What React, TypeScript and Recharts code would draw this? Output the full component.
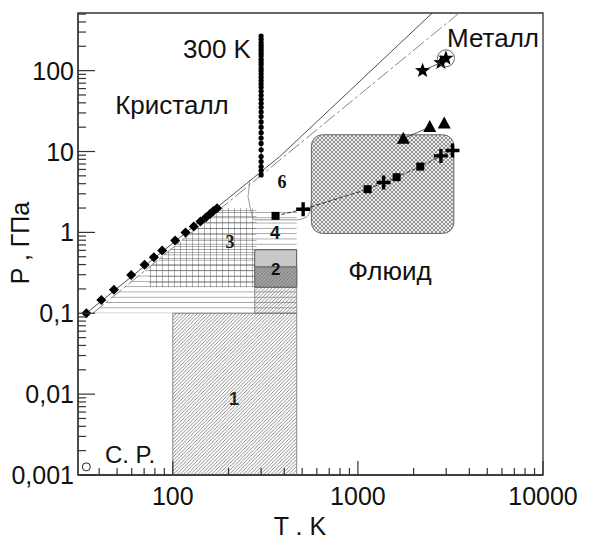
import { ComposedChart, XAxis, YAxis, Line, Scatter, Area, ReferenceArea } from 'recharts'

// axis ticks
const T_TICKS = [40, 50, 60, 70, 80, 90, 100, 200, 300, 400, 500, 600, 700, 800, 900, 1000, 2000, 3000, 4000, 5000, 6000, 7000, 8000, 9000, 10000]
const T_MAJOR = [100, 1000, 10000]
const T_LABELS = ['100', '1000', '10000']
const P_TICKS = [
  0.001, 0.002, 0.003, 0.004, 0.005, 0.006, 0.007, 0.008, 0.009,
  0.01, 0.02, 0.03, 0.04, 0.05, 0.06, 0.07, 0.08, 0.09,
  0.1, 0.2, 0.3, 0.4, 0.5, 0.6, 0.7, 0.8, 0.9,
  1, 2, 3, 4, 5, 6, 7, 8, 9,
  10, 20, 30, 40, 50, 60, 70, 80, 90,
  100, 200, 300, 400, 500,
]
const P_MAJOR = [0.001, 0.01, 0.1, 1, 10, 100]
const P_LABELS = ['0,001', '0,01', '0,1', '1', '10', '100']

// melting curve data (diamonds)
const meltPoints = [
  { T: 34.1, P: 0.1 }, { T: 41.1, P: 0.146 }, { T: 48.1, P: 0.195 }, { T: 59.6, P: 0.298 },
  { T: 70.4, P: 0.397 }, { T: 79.0, P: 0.494 }, { T: 87.6, P: 0.596 }, { T: 102.9, P: 0.792 },
  { T: 117.1, P: 0.994 }, { T: 129.8, P: 1.18 }, { T: 141.0, P: 1.36 }, { T: 151.2, P: 1.54 },
  { T: 158.9, P: 1.69 }, { T: 165.7, P: 1.84 }, { T: 173.4, P: 1.99 },
]
// melting curves
const meltSolid = [{ T: 34.1, P: 0.1 }, { T: 377, P: 8.6 }, { T: 899, P: 55.8 }, { T: 2521, P: 516 }]
const meltDashed = [{ T: 37.0, P: 0.1 }, { T: 3524, P: 516 }]

// 300 K isotherm
const iso300P = [
  268, 244, 222, 206, 191, 177, 164, 152, 138, 128, 119, 108, 100, 91, 82.8, 75.3, 68.5, 62.3,
  55.6, 49.6, 44.3, 39.5, 35.2, 30.9, 27.0, 23.2, 20.0, 17.1, 14.7, 12.6, 10.5, 8.66, 7.51, 6.51, 5.81, 5.14,
]
const iso300 = iso300P.map(P => ({ T: 300, P }))

// fluid data
const fluidSquares = [{ T: 359, P: 1.6 }, { T: 1129, P: 3.42 }, { T: 1619, P: 4.81 }, { T: 2172, P: 6.51 }]
const fluidCrosses = [{ T: 506, P: 1.93 }, { T: 1377, P: 4.13 }, { T: 2809, P: 8.82 }, { T: 3243, P: 10.3 }]
const triangles = [{ T: 1759, P: 14.4 }, { T: 2444, P: 20.1 }, { T: 2927, P: 22.2 }]
const stars = [{ T: 2236, P: 100 }, { T: 2809, P: 125.6 }, { T: 2989, P: 142 }]
const metalCircle = [{ T: 2989, P: 142 }]
const critPoint = [{ T: 34.1, P: 0.00126 }]

// hatched regions
const region3 = [{ T: 74.5, range: [0.21, 0.37] }, { T: 183, range: [0.21, 2] }, { T: 283, range: [0.21, 2] }]
const regionH = [{ T: 37, range: [0.1, 0.1] }, { T: 183, range: [0.1, 2] }, { T: 467, range: [0.1, 2] }]
const region6 = [
  { T: 260, P: 4.46 }, { T: 254, P: 2.75 }, { T: 263, P: 1.9 }, { T: 277, P: 1.43 },
  { T: 466, P: 1.43 }, { T: 527, P: 1.55 }, { T: 554, P: 1.9 }, { T: 560, P: 2.52 },
]

const fluidLine = [...fluidSquares, ...fluidCrosses].sort((a, b) => a.T - b.T)

const SANS = '"Liberation Sans", Arial, Helvetica, sans-serif'
const SERIF = '"Liberation Serif", "Times New Roman", serif'

const XTick = (props: any) => {
  const { x, y, payload } = props
  const i = T_MAJOR.indexOf(payload.value)
  return (
    <g>
      <line x1={x} x2={x} y1={y} y2={y - (i >= 0 ? 14 : 7)} stroke="#333" strokeWidth={1.2} />
      {i >= 0 && (
        <text x={x} y={y + 30} textAnchor="middle" fontSize={25} fontFamily={SANS} fill="#111">{T_LABELS[i]}</text>
      )}
    </g>
  )
}

const YTick = (props: any) => {
  const { x, y, payload } = props
  const i = P_MAJOR.indexOf(payload.value)
  return (
    <g>
      <line x1={x} x2={x + (i >= 0 ? 17 : 8)} y1={y} y2={y} stroke="#333" strokeWidth={1.2} />
      {i >= 0 && (
        <text x={x - 4} y={y + 9} textAnchor="end" fontSize={25} fontFamily={SANS} fill="#111">{P_LABELS[i]}</text>
      )}
    </g>
  )
}

const Diamond = ({ cx, cy }: any) => <polygon points={`${cx},${cy - 5} ${cx + 5},${cy} ${cx},${cy + 5} ${cx - 5},${cy}`} fill="#000" />
const Dot = ({ cx, cy }: any) => <circle cx={cx} cy={cy} r={2.6} fill="#000" />
const Square = ({ cx, cy }: any) => <rect x={cx - 4} y={cy - 4} width={8} height={8} fill="#000" />
const Cross = ({ cx, cy }: any) => (
  <path d={`M${cx - 7},${cy} H${cx + 7} M${cx},${cy - 7} V${cy + 7}`} stroke="#000" strokeWidth={3.4} />
)
const Triangle = ({ cx, cy }: any) => <polygon points={`${cx},${cy - 7} ${cx + 6.5},${cy + 5} ${cx - 6.5},${cy + 5}`} fill="#000" />
const Star = ({ cx, cy }: any) => {
  const pts: string[] = []
  for (let k = 0; k < 10; k++) {
    const r = k % 2 === 0 ? 8 : 3.3
    const a = -Math.PI / 2 + (k * Math.PI) / 5
    pts.push(`${cx + r * Math.cos(a)},${cy + r * Math.sin(a)}`)
  }
  return <polygon points={pts.join(' ')} fill="#000" />
}
const Ring = ({ cx, cy }: any) => <circle cx={cx} cy={cy} r={8.5} fill="none" stroke="#555" strokeWidth={0.9} />
const OpenDot = ({ cx, cy }: any) => <circle cx={cx} cy={cy} r={4} fill="#fff" stroke="#222" strokeWidth={1} />

export default function App() {
  return (
    <div style={{ position: 'absolute', left: 0, top: 0, width: 590, height: 541, background: '#fff' }}>
      <ComposedChart width={590} height={541} margin={{ top: 13, right: 47, bottom: 36, left: 18 }}>
        <defs>
          <pattern id="diag" patternUnits="userSpaceOnUse" width={3.5} height={3.5}>
            <path d="M-1,1 l2,-2 M0,3.5 l3.5,-3.5 M2.5,4.5 l2,-2" stroke="#666" strokeWidth={0.75} />
          </pattern>
          <pattern id="grid" patternUnits="userSpaceOnUse" width={6} height={6}>
            <path d="M0,0 V6 M0,0 H6" stroke="#444" strokeWidth={0.8} fill="none" />
          </pattern>
          <pattern id="hlines" patternUnits="userSpaceOnUse" width={6} height={5.3}>
            <path d="M0,0 H6" stroke="#444" strokeWidth={0.9} />
          </pattern>
          <pattern id="xhatch" patternUnits="userSpaceOnUse" width={4} height={4}>
            <rect width={4} height={4} fill="#ececec" />
            <path d="M0,0 L4,4 M4,0 L0,4" stroke="#555" strokeWidth={0.6} />
          </pattern>
        </defs>

        <XAxis
          type="number" dataKey="T" scale="log" domain={[30.75, 10000]} allowDataOverflow
          ticks={T_TICKS} interval={0} height={30} tickSize={0} tickMargin={0}
          tickLine={false} axisLine={{ stroke: '#333', strokeWidth: 1.3 }} tick={XTick}
        />
        <YAxis
          type="number" dataKey="P" scale="log" domain={[0.001, 516]} allowDataOverflow
          ticks={P_TICKS} interval={0} width={60} tickSize={0} tickMargin={0}
          tickLine={false} axisLine={{ stroke: '#333', strokeWidth: 1.3 }} tick={YTick}
        />

        {/* frame */}
        <ReferenceArea x1={30.75} x2={10000} y1={0.001} y2={516} fill="none" stroke="#333" strokeWidth={1.3} />

        {/* region 1 */}
        <ReferenceArea x1={100} x2={467} y1={0.001} y2={0.1} fill="url(#diag)" fillOpacity={1} stroke="#888" strokeWidth={1} />
        {/* horizontal-line region and region 3 grid */}
        <Area data={regionH} dataKey="range" type="linear" stroke="none" fill="url(#hlines)" fillOpacity={1} isAnimationActive={false} />
        <Area data={region3} dataKey="range" type="linear" stroke="none" fill="url(#grid)" fillOpacity={1} isAnimationActive={false} />
        {/* region 2 */}
        <ReferenceArea x1={277} x2={467} y1={0.21} y2={0.61} fill="#c8c8c8" fillOpacity={1} stroke="#555" strokeWidth={1} />
        <ReferenceArea x1={277} x2={467} y1={0.21} y2={0.375} fill="#a4a4a4" fillOpacity={1} stroke="#555" strokeWidth={0.8} />
        <ReferenceArea
          x1={277} x2={467} y1={0.1} y2={0.375} fill="url(#diag)" fillOpacity={1} stroke="#777" strokeWidth={0.8}
        />
        <ReferenceArea
          x1={277} x2={467} y1={0.21} y2={0.61} fill="none" stroke="none"
          label={{ value: '2', position: 'center', fontSize: 17, fontWeight: 'bold', fill: '#111', fontFamily: SANS }}
        />
        {/* region 5 */}
        <ReferenceArea
          x1={561} x2={3300} y1={0.97} y2={16.1}
          shape={(p: any) => (
            <rect x={p.x} y={p.y} width={p.width} height={p.height} rx={11} fill="url(#xhatch)" stroke="#666" strokeWidth={1} />
          )}
        />

        {/* curves */}
        <Line data={meltDashed} dataKey="P" type="linear" stroke="#777" strokeWidth={0.9} strokeDasharray="14 3 3 3" dot={false} isAnimationActive={false} />
        <Line data={meltSolid} dataKey="P" type="linear" stroke="#222" strokeWidth={0.8} dot={false} isAnimationActive={false} />
        <Line data={region6} dataKey="P" type="monotone" stroke="#888" strokeWidth={0.9} dot={false} isAnimationActive={false} />
        <Line data={iso300} dataKey="P" type="linear" stroke="#000" strokeWidth={1} dot={false} isAnimationActive={false} />
        <Line data={fluidLine} dataKey="P" type="linear" stroke="#222" strokeWidth={0.9} strokeDasharray="4 2" dot={false} isAnimationActive={false} />
        <Line data={triangles.slice(0, 2)} dataKey="P" type="linear" stroke="#333" strokeWidth={0.8} dot={false} isAnimationActive={false} />
        <Line data={stars.slice(0, 2)} dataKey="P" type="linear" stroke="#333" strokeWidth={0.8} dot={false} isAnimationActive={false} />

        {/* markers */}
        <Scatter data={meltPoints} shape={Diamond} isAnimationActive={false} />
        <Scatter data={iso300} shape={Dot} isAnimationActive={false} />
        <Scatter data={fluidSquares} shape={Square} isAnimationActive={false} />
        <Scatter data={fluidCrosses} shape={Cross} isAnimationActive={false} />
        <Scatter data={triangles} shape={Triangle} isAnimationActive={false} />
        <Scatter data={stars} shape={Star} isAnimationActive={false} />
        <Scatter data={metalCircle} shape={Ring} isAnimationActive={false} />
        <Scatter data={critPoint} shape={OpenDot} isAnimationActive={false} />

        {/* annotations */}
        <g fontFamily={SANS} fill="#111">
          <text x={217} y={58} fontSize={26} textAnchor="middle">300 K</text>
          <text x={172} y={114} fontSize={26} textAnchor="middle">Кристалл</text>
          <text x={493} y={47} fontSize={26} textAnchor="middle">Металл</text>
          <text x={390} y={280} fontSize={26} textAnchor="middle">Флюид</text>
          <text x={130} y={463} fontSize={24} textAnchor="middle">C. P.</text>
          <text x={234} y={405} fontSize={18} fontWeight="bold" textAnchor="middle">1</text>
          <text x={275} y={239} fontSize={18} fontWeight="bold" textAnchor="middle">4</text>
          <text x={230} y={248} fontSize={18} fontWeight="bold" fontFamily={SERIF} textAnchor="middle">3</text>
          <text x={355} y={170} fontSize={18} fontWeight="bold" fontFamily={SERIF} textAnchor="middle">5</text>
          <text x={282} y={188} fontSize={18} fontWeight="bold" fontFamily={SERIF} textAnchor="middle">6</text>
          <text x={300} y={535} fontSize={25} textAnchor="middle">T . K</text>
          <text x={0} y={0} fontSize={25} textAnchor="middle" transform="translate(29,243) rotate(-90)">P , ГПа</text>
        </g>
      </ComposedChart>
    </div>
  )
}
